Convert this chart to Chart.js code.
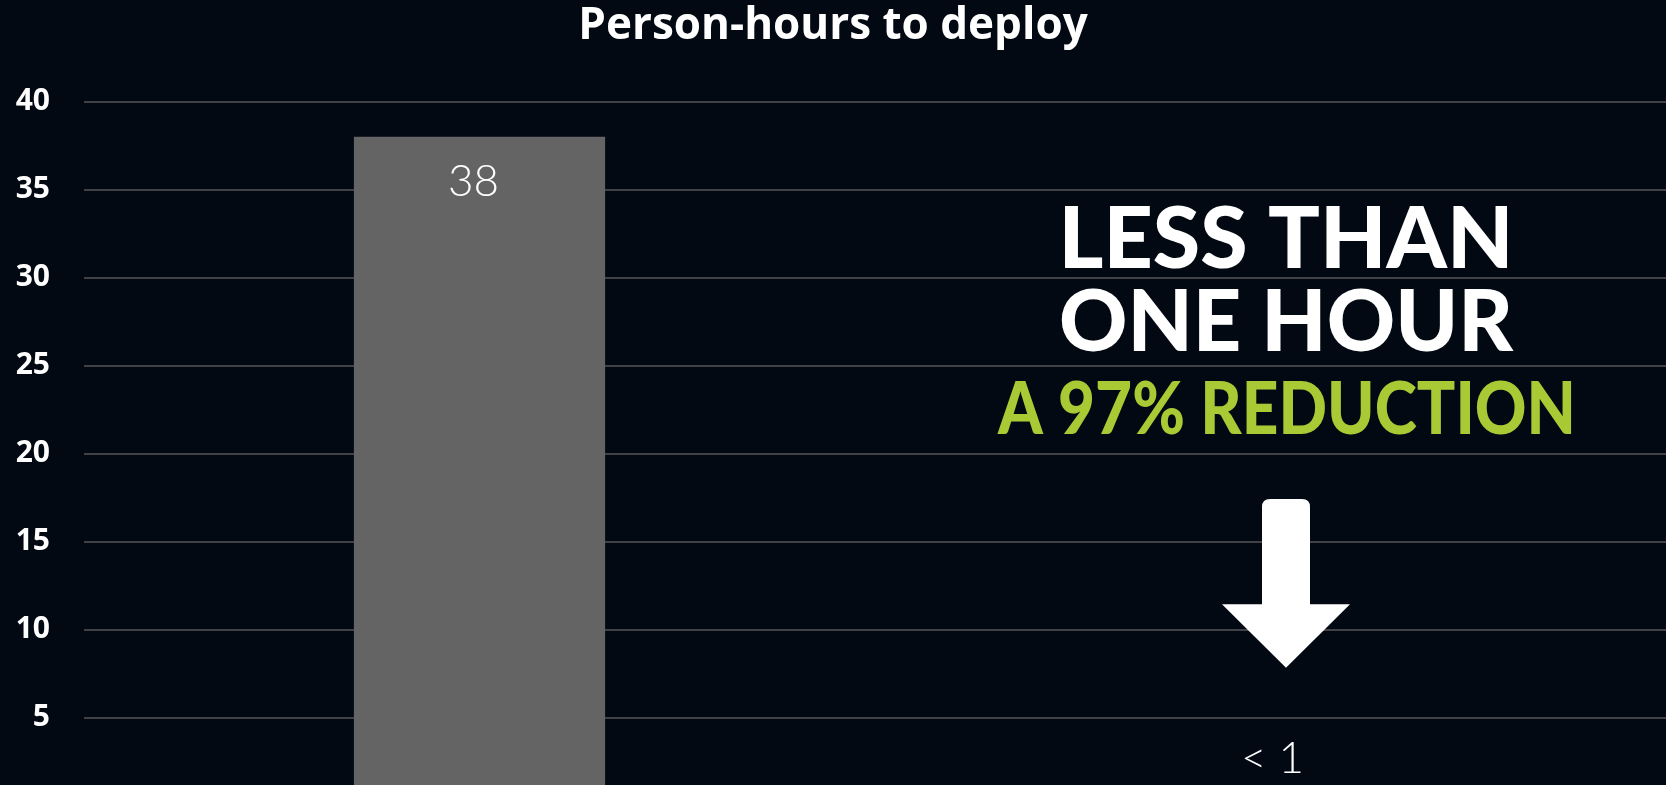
<!DOCTYPE html>
<html>
<head>
<meta charset="utf-8">
<script src="https://cdn.jsdelivr.net/npm/chart.js@4.4.1/dist/chart.umd.min.js"></script>
<style>
  html, body { margin: 0; padding: 0; background: #020912; overflow: hidden; }
  #c { display: block; }
</style>
</head>
<body>
<canvas id="c" width="1666" height="806"></canvas>
<script>
// ---- data ----
const categories = ['Before', 'After'];
const personHours = [38, 0.5];
const valueLabels = ['38', '< 1'];
const yTicks = [5, 10, 15, 20, 25, 30, 35, 40];
const titleText = 'Person-hours to deploy';
const headlineLines = ['LESS THAN', 'ONE HOUR'];
const subHeadline = 'A 97% REDUCTION';

const GREEN = '#a9c935';

const valueLabelPlugin = {
  id: 'valueLabels',
  afterDatasetsDraw(chart) {
    const ctx = chart.ctx;
    const meta = chart.getDatasetMeta(0);
    ctx.save();
    ctx.fillStyle = '#ffffff';
    ctx.font = '300 44px Lato';
    ctx.textAlign = 'center';
    ctx.textBaseline = 'alphabetic';
    meta.data.forEach((bar, i) => {
      const tall = personHours[i] > 5;
      const y = tall ? bar.y + 59 : bar.y - 24;
      const dx = tall ? -6 : 2;
      ctx.fillText(valueLabels[i], bar.x + dx, y);
    });
    ctx.restore();
  }
};

const annotationPlugin = {
  id: 'annotations',
  afterDraw(chart) {
    const ctx = chart.ctx;
    const ys = chart.scales.y;
    const cx = 1286;
    ctx.save();
    ctx.textAlign = 'center';
    ctx.textBaseline = 'alphabetic';
    ctx.fillStyle = '#ffffff';
    ctx.font = '900 86px Lato';
    ctx.fillText(headlineLines[0], cx, 268, 457);
    ctx.fillText(headlineLines[1], cx, 351, 454);
    ctx.fillStyle = GREEN;
    ctx.font = '900 73px Lato';
    ctx.fillText(subHeadline, 1287, 434, 578);

    // down arrow
    const shaftTop = ys.getPixelForValue(17.43);
    const headBase = ys.getPixelForValue(11.45);
    const tip = ys.getPixelForValue(7.85);
    const sl = 1262, sr = 1310, r = 8;
    ctx.fillStyle = '#ffffff';
    ctx.beginPath();
    ctx.moveTo(sl, headBase);
    ctx.lineTo(sl, shaftTop + r);
    ctx.quadraticCurveTo(sl, shaftTop, sl + r, shaftTop);
    ctx.lineTo(sr - r, shaftTop);
    ctx.quadraticCurveTo(sr, shaftTop, sr, shaftTop + r);
    ctx.lineTo(sr, headBase);
    ctx.lineTo(1350, headBase);
    ctx.lineTo(1286, tip);
    ctx.lineTo(1222, headBase);
    ctx.closePath();
    ctx.fill();
    ctx.restore();
  }
};

new Chart(document.getElementById('c'), {
  type: 'bar',
  data: {
    labels: categories,
    datasets: [{
      data: personHours,
      backgroundColor: '#646464',
      borderWidth: 0,
      categoryPercentage: 0.8,
      barPercentage: 0.397
    }]
  },
  options: {
    responsive: false,
    animation: false,
    layout: { padding: { left: 0, right: 0, top: 0, bottom: 0 } },
    plugins: {
      legend: { display: false },
      tooltip: { enabled: false },
      title: {
        display: true,
        text: titleText,
        color: '#ffffff',
        font: { family: 'Open Sans', weight: '700', size: 44, lineHeight: 1.2 },
        padding: { top: 0, bottom: 48.8 }
      }
    },
    scales: {
      x: { display: false, grid: { display: false } },
      y: {
        min: 0,
        max: 40,
        afterBuildTicks(scale) { scale.ticks = yTicks.map(v => ({ value: v })); },
        afterFit(scale) { scale.width = 84; scale.paddingTop = 0; scale.paddingBottom = 0; },
        border: { display: false },
        grid: { color: '#404246', lineWidth: 2, drawTicks: false },
        ticks: {
          color: '#ffffff',
          padding: 34,
          font: { family: 'Open Sans', weight: '700', size: 30 }
        }
      }
    }
  },
  plugins: [valueLabelPlugin, annotationPlugin]
});
</script>
</body>
</html>
